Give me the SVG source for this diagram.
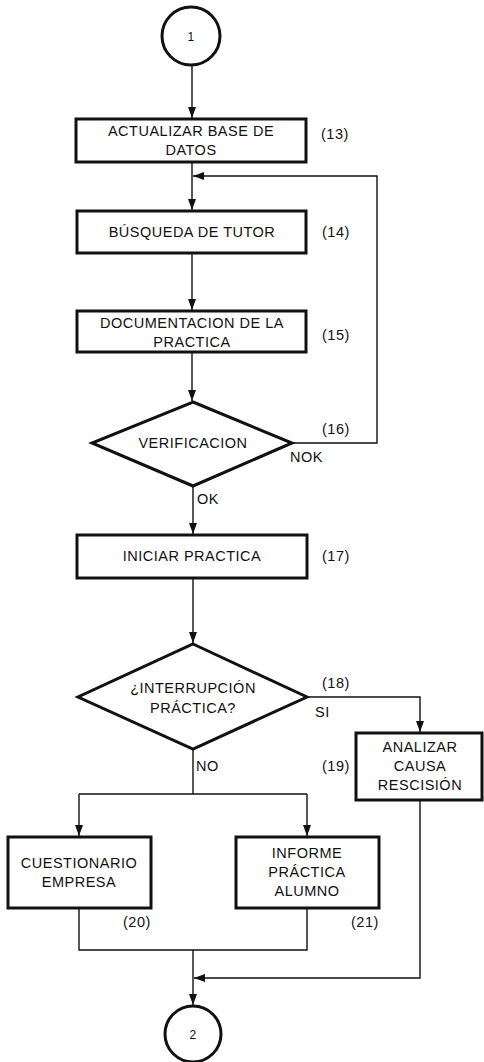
<svg xmlns="http://www.w3.org/2000/svg" width="484" height="1062" viewBox="0 0 484 1062">
<style>
.box{fill:#fff;stroke:#111;stroke-width:3}
.conn{fill:none;stroke:#111;stroke-width:1.4}
text{font-family:"Liberation Sans",Arial,sans-serif;font-size:14.5px;fill:#111;letter-spacing:0.5px}
.c{text-anchor:middle}
</style>
<defs>
<marker id="arr" markerUnits="userSpaceOnUse" markerWidth="12" markerHeight="12" viewBox="0 0 12 12" refX="11" refY="6" orient="auto">
<path d="M0,2 L11,6 L0,10 Z" fill="#111"/>
</marker>
</defs>
<g id="connectors">
<path class="conn" d="M192,65 V118" marker-end="url(#arr)"/>
<path class="conn" d="M192,162 V210" marker-end="url(#arr)"/>
<path class="conn" d="M292,443 H377 V176 H193" marker-end="url(#arr)"/>
<path class="conn" d="M192,253 V310" marker-end="url(#arr)"/>
<path class="conn" d="M192,352 V401" marker-end="url(#arr)"/>
<path class="conn" d="M193,486 V534" marker-end="url(#arr)"/>
<path class="conn" d="M193,578 V643" marker-end="url(#arr)"/>
<path class="conn" d="M307,697 H420 V732" marker-end="url(#arr)"/>
<path class="conn" d="M193,749 V794"/>
<path class="conn" d="M79,794 H307"/>
<path class="conn" d="M79,794 V836" marker-end="url(#arr)"/>
<path class="conn" d="M307,794 V836" marker-end="url(#arr)"/>
<path class="conn" d="M79,908 V950 H307 V908"/>
<path class="conn" d="M193,950 V1005" marker-end="url(#arr)"/>
<path class="conn" d="M420,800 V978 H194" marker-end="url(#arr)"/>
<text x="197" y="504">OK</text>
<text x="290" y="462">NOK</text>
<text x="315" y="717">SI</text>
<text x="196" y="771">NO</text>
</g>
<g id="start1">
<circle class="box" cx="191" cy="36" r="29"/>
<text class="c" x="191" y="41" style="font-size:12px">1</text>
</g>
<g id="n13">
<rect class="box" x="76" y="119" width="230" height="43"/>
<text class="c" x="191" y="136">ACTUALIZAR BASE DE</text>
<text class="c" x="191" y="155">DATOS</text>
<text x="321" y="139">(13)</text>
</g>
<g id="n14">
<rect class="box" x="77" y="211" width="229" height="42"/>
<text class="c" x="192" y="237">BÚSQUEDA DE TUTOR</text>
<text x="322" y="237">(14)</text>
</g>
<g id="n15">
<rect class="box" x="77" y="311" width="229" height="41"/>
<text class="c" x="192" y="328">DOCUMENTACION DE LA</text>
<text class="c" x="192" y="347">PRACTICA</text>
<text x="322" y="340">(15)</text>
</g>
<g id="n16">
<polygon class="box" points="193,402 292,443 193,486 92,443"/>
<text class="c" x="193" y="448">VERIFICACION</text>
<text x="322" y="434">(16)</text>
</g>
<g id="n17">
<rect class="box" x="77" y="535" width="230" height="43"/>
<text class="c" x="192" y="561">INICIAR PRACTICA</text>
<text x="322" y="561">(17)</text>
</g>
<g id="n18">
<polygon class="box" points="193,644 307,697 193,749 78,697"/>
<text class="c" x="193" y="693">¿INTERRUPCIÓN</text>
<text class="c" x="193" y="713">PRÁCTICA?</text>
<text x="322" y="688">(18)</text>
</g>
<g id="n19">
<rect class="box" x="356" y="733" width="126" height="67"/>
<text class="c" x="420" y="752">ANALIZAR</text>
<text class="c" x="420" y="771">CAUSA</text>
<text class="c" x="420" y="790">RESCISIÓN</text>
<text x="322" y="771">(19)</text>
</g>
<g id="n20">
<rect class="box" x="8" y="837" width="143" height="71"/>
<text class="c" x="79" y="868">CUESTIONARIO</text>
<text class="c" x="79" y="887">EMPRESA</text>
<text x="123" y="927">(20)</text>
</g>
<g id="n21">
<rect class="box" x="236" y="837" width="143" height="71"/>
<text class="c" x="307" y="858">INFORME</text>
<text class="c" x="307" y="877">PRÁCTICA</text>
<text class="c" x="307" y="896">ALUMNO</text>
<text x="351" y="927">(21)</text>
</g>
<g id="end2">
<circle class="box" cx="193" cy="1034" r="28"/>
<text class="c" x="193" y="1039" style="font-size:12px">2</text>
</g>
</svg>
